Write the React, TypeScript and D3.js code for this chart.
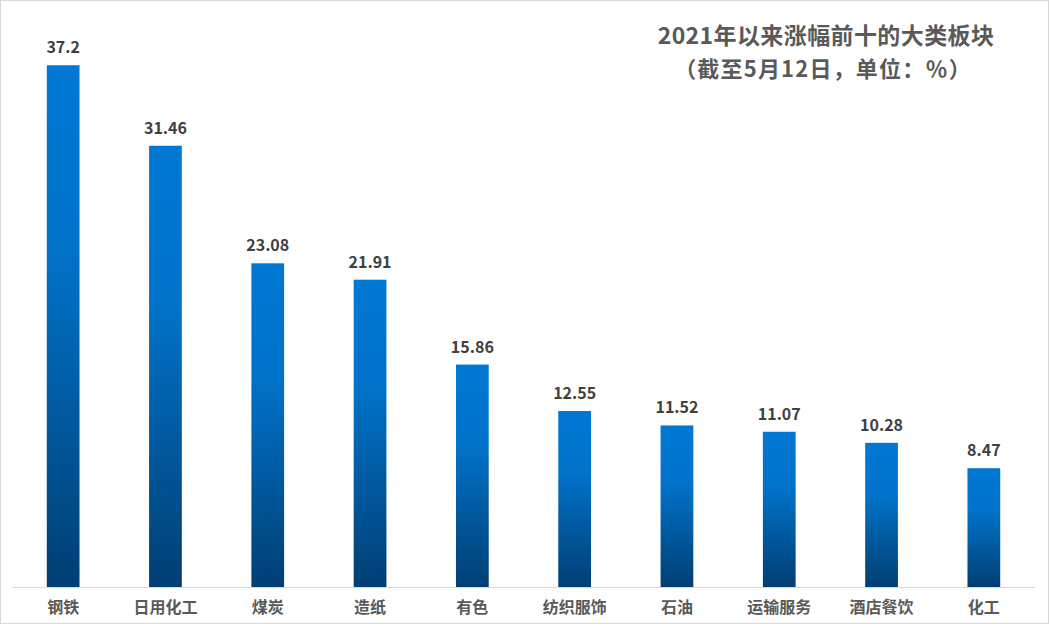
import React from "react";
import * as d3 from "d3";

const categories = ["钢铁", "日用化工", "煤炭", "造纸", "有色", "纺织服饰", "石油", "运输服务", "酒店餐饮", "化工"];
const values = [37.2, 31.46, 23.08, 21.91, 15.86, 12.55, 11.52, 11.07, 10.28, 8.47];
const valueLabels = ["37.2", "31.46", "23.08", "21.91", "15.86", "12.55", "11.52", "11.07", "10.28", "8.47"];
const titleLines = ["2021年以来涨幅前十的大类板块", "（截至5月12日，单位：％）"];

const W = 1050, H = 625;
const font = "'Noto Sans CJK SC', 'Microsoft YaHei', sans-serif";

export default function App() {
  const x = d3.scaleBand<string>().domain(categories).range([12, 1035]).paddingInner(0.68).paddingOuter(0.34);
  const y = d3.scaleLinear().domain([0, 40]).range([587, 26]);
  return (
    <svg width={W} height={H} style={{ position: "absolute", left: 0, top: 0 }}>
      <defs>
        <linearGradient id="barGrad" x1="0" y1="0" x2="0" y2="1">
          <stop offset="0" stopColor="#0078D4" />
          <stop offset="0.35" stopColor="#0073CA" />
          <stop offset="1" stopColor="#003F73" />
        </linearGradient>
      </defs>
      <rect x={0.5} y={0.5} width={W - 2} height={H - 2} fill="#fff" stroke="#d9d9d9" />
      {categories.map((c, i) => (
        <g key={c}>
          <rect x={x(c)} y={y(values[i])} width={x.bandwidth()} height={y(0) - y(values[i])} fill="url(#barGrad)" />
          <text x={x(c)! + x.bandwidth() / 2} y={y(values[i]) - 12} textAnchor="middle" fontFamily={font} fontSize={16} fontWeight="bold" fill="#404040">{valueLabels[i]}</text>
          <text x={x(c)! + x.bandwidth() / 2} y={613} textAnchor="middle" fontFamily={font} fontSize={16} fontWeight="bold" fill="#595959">{c}</text>
        </g>
      ))}
      <line x1={12} x2={1035} y1={587.5} y2={587.5} stroke="#d9d9d9" strokeWidth={1} />
      <text x={826} y={44} textAnchor="middle" fontFamily={font} fontSize={23} fontWeight="bold" fill="#595959" letterSpacing={0.4}>{titleLines[0]}</text>
      <text x={823} y={77} textAnchor="middle" fontFamily={font} fontSize={22} fontWeight="bold" fill="#595959" letterSpacing={1.2}>{titleLines[1]}</text>
    </svg>
  );
}
